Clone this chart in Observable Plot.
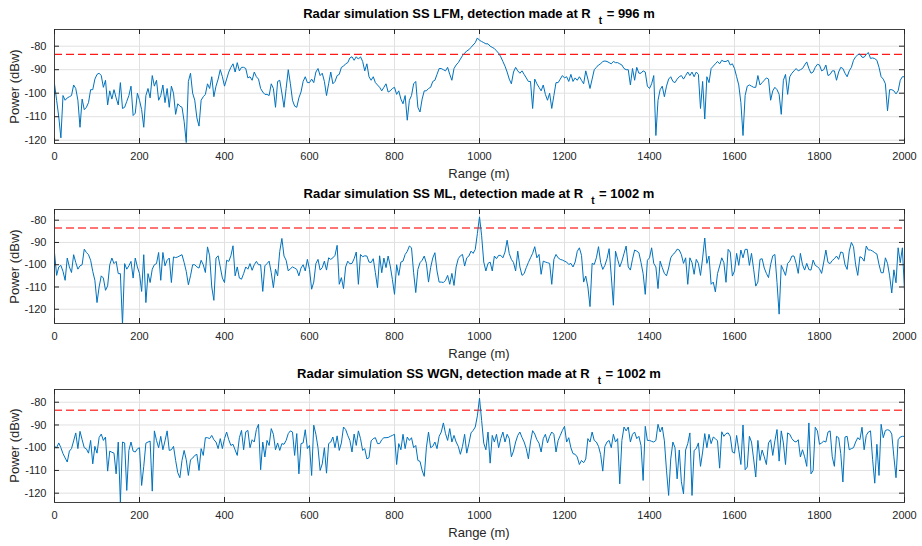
<!DOCTYPE html>
<html>
<head>
<meta charset="utf-8">
<script src="https://cdn.jsdelivr.net/npm/d3@7"></script>
<script src="https://cdn.jsdelivr.net/npm/@observablehq/plot@0.6"></script>
<style>
  body { margin: 0; background: #fff; }
  #fig { position: relative; width: 922px; height: 546px; overflow: hidden;
         font-family: "Liberation Sans", Arial, Helvetica, sans-serif; background: #fff; }
  .panel { position: absolute; left: 0; }
  .title { position: absolute; left: 54px; width: 850px; text-align: center; font-weight: bold;
           font-size: 13px; line-height: 15px; color: #000; white-space: nowrap; }
  .title .sub { position: relative; top: 6px; font-size: 10px; margin-left: 8px; margin-right: 1px; }
  .xlab { position: absolute; left: 54px; width: 850px; text-align: center; font-size: 13px;
          line-height: 15px; color: #262626; white-space: nowrap; }
  .ylab { position: absolute; width: 120px; text-align: center; font-size: 13px; line-height: 15px;
          color: #262626; white-space: nowrap; transform: rotate(-90deg); }
</style>
</head>
<body>
<div id="fig"></div>
<script>
// Sampling grid of the range profiles (m)
const ranges = d3.range(0, 2001, 5);

// Received power (dBW) after matched filtering, one value per range bin
const lfmPower = [
  -96, -103, -110, -119, -101, -103, -102, -101.5, -101, -96.5, -98, -103, -114.5, -102.5, -107, -106, -104, -98.5, -98.5, -94,
  -92, -91.5, -92.5, -97.5, -94.5, -105, -99, -102.5, -98.5, -102, -105, -95.5, -106.5, -106, -103.5, -101, -97, -109.5, -108.5, -100,
  -103, -107, -114.5, -101, -98, -102, -92.5, -97, -94.5, -103, -101, -96.5, -104, -98, -106, -97, -100, -109, -104.5, -105.5,
  -106, -112, -121, -95, -91.5, -100, -103, -110.5, -114, -103, -101.5, -100.5, -96, -98, -93, -101.5, -97, -94, -90, -93,
  -97, -94, -91, -89, -87.5, -91, -87, -90.5, -89, -89, -89.5, -93.5, -93, -94.5, -91, -93, -94, -98, -99.5, -100.5,
  -100.5, -101, -96, -98, -106, -95, -94.5, -100, -106, -98, -90, -96, -103, -105.5, -106, -102, -99.5, -95, -93, -95.5,
  -95.5, -94, -95.5, -91, -89.5, -92.5, -91.5, -95, -101, -96, -91, -96, -95, -92.5, -92, -89, -88.5, -87.5, -87, -85,
  -84.5, -86, -84.5, -85.5, -84.5, -86.5, -90.5, -87.5, -93, -94.5, -93, -95.5, -96.5, -97.5, -99, -97.5, -96, -99.5, -99, -98,
  -97.5, -100.5, -99, -102.5, -104.5, -101, -111.5, -103, -101, -96, -95, -106, -108, -102.5, -99, -99, -98, -97.5, -95, -94.5,
  -92, -89.5, -89.5, -90, -90.5, -89, -92, -94.5, -89.5, -88, -87, -85.5, -84, -83, -82, -81.5, -80.5, -79.5, -78.5, -76.5,
  -77.5, -78, -78.5, -79, -79, -80, -80.5, -81, -82, -83, -84.5, -86.5, -88.5, -91, -94, -96, -91, -89, -90.5, -91.5,
  -90.5, -92, -93.5, -95, -95, -106.5, -94, -96, -97.5, -99, -96.5, -100.5, -103, -100, -106.5, -101, -95.5, -95.5, -94, -92.5,
  -93.5, -93, -95, -92, -95, -93.5, -94.5, -93, -94.5, -96, -90.5, -94, -98, -94, -90, -89, -88, -87.5, -86.5, -86.3,
  -86.5, -87, -87.5, -86.5, -87, -87, -87.5, -88, -89.5, -90, -90, -96.5, -89.5, -94.5, -89, -91.5, -91.5, -90.5, -91, -97,
  -98, -96, -92.5, -118, -103, -98.5, -97, -101.5, -97, -94, -93, -95, -95.5, -94, -93, -92.5, -94, -92.5, -91, -92.5,
  -91, -93, -91, -92, -106.5, -95, -111, -93, -95.5, -89.5, -88.5, -87.5, -86.5, -87.5, -86, -86.5, -86.5, -86, -88, -87.5,
  -89.5, -93, -96.5, -104, -118, -101, -97, -96.5, -97, -97.5, -97.5, -92.5, -96.5, -95.5, -94.5, -93.5, -94, -103, -99, -97.5,
  -98.5, -100.5, -109, -94.5, -92, -100.5, -93, -91.5, -90.5, -89.5, -90.5, -90, -89.5, -88, -86.7, -89.5, -91.5, -91, -89, -87.7,
  -88, -90.5, -90, -88, -92.5, -92, -90.5, -90.5, -94.5, -91, -89, -89.5, -91.5, -93, -90.5, -89, -86, -84.5, -83.7, -83.3,
  -84.7, -84.7, -83.5, -82.7, -85.2, -85, -85.3, -86, -89, -93, -94, -96, -107.5, -98.5, -98.5, -99, -100.3, -99, -94.5, -93,
  -93
];

const mlPower = [
  -94.6, -104.8, -101, -100.3, -103, -107, -97, -101, -103.5, -95.5, -99, -102, -100.5, -100, -93, -94.5, -95.5, -98, -103, -107,
  -117, -110, -105, -106, -111.5, -109.5, -100, -97, -99.5, -98.5, -104, -104, -127, -99.5, -102, -100.5, -98.5, -106, -97, -101,
  -104, -112, -95.5, -117, -104, -108, -102, -100, -99.5, -94.5, -107, -94.5, -100.5, -98, -97, -108, -96.5, -96.8, -96.5, -96,
  -95.5, -99, -103, -109, -105, -100, -100, -101, -101.5, -98, -100, -103.5, -92, -96, -110, -116, -97, -96, -101, -106,
  -108, -98, -98.5, -96, -91.5, -105, -101, -106, -106.5, -104, -101, -102, -99.5, -102.5, -100, -98.5, -100, -100, -112, -100.5,
  -99.5, -98.4, -103.6, -110.3, -102, -105, -94, -88.2, -96.1, -98, -102.8, -101.8, -101, -101.5, -102.1, -105, -101.5, -100, -102.8, -97.6,
  -102.1, -111, -107.8, -99.5, -97.6, -102.4, -101.3, -98.4, -102.4, -96.9, -97.6, -96.9, -95.8, -91.3, -108.8, -105.8, -110.7, -101, -98.4, -99.6,
  -99.4, -97.3, -94.3, -108.8, -95.4, -96.4, -96, -96.1, -98.8, -99, -97.3, -103.6, -110.3, -96, -103.6, -97, -101.3, -96.1, -100.6, -106.6,
  -113.3, -100, -104.8, -98.8, -98.4, -95.4, -94, -91.6, -92.4, -103.6, -112.5, -102.1, -99.1, -98, -96.1, -99.4, -107.8, -101.3, -97, -94.6,
  -102.8, -107.8, -107.8, -108, -107, -104.8, -108.8, -103.9, -109.3, -101, -97.3, -96, -95.4, -100.6, -96.9, -96.1, -93.9, -94.9, -93.1, -86,
  -78.5, -87, -98.8, -102.8, -99.4, -98.8, -102.8, -96.1, -97.3, -95.8, -95.8, -96.9, -94.3, -89, -95, -97.6, -99, -102.8, -93.9, -101,
  -104.8, -104, -101.3, -99, -96.9, -94.9, -91.9, -96.9, -95.4, -104.3, -98.4, -98.8, -99.1, -99.4, -108.8, -97.6, -95.4, -96.9, -97.6, -97.9,
  -98.4, -98.8, -99.9, -99.4, -101, -98.8, -94, -92.4, -95.8, -107.8, -105.1, -110, -118.8, -99.4, -99.9, -96.9, -91.9, -99, -102.1, -100.3,
  -97.3, -92.8, -105, -118.2, -93.9, -97.6, -101, -98.4, -95, -91.6, -101, -102.4, -97.5, -93.4, -93.9, -94.6, -99, -104, -113.3, -98,
  -96.9, -92.4, -99.4, -101, -110.7, -98.4, -101.3, -103.9, -105, -101.5, -96.9, -95.4, -94.6, -93, -93.4, -95.5, -99.4, -96.9, -108.8, -96.9,
  -99.1, -104.3, -97.6, -99.4, -104.8, -97, -88, -99.4, -96.1, -108.8, -107.8, -112.2, -104, -100.6, -96.9, -99.1, -107.9, -93.1, -94.3, -105.1,
  -102.8, -94.9, -100.3, -93.4, -96.9, -93.1, -93.1, -100.3, -94.9, -102, -109.6, -107.8, -97.6, -97.3, -101.5, -103.9, -105.8, -99.9, -96, -95.4,
  -108, -122.2, -100.3, -102.4, -104.8, -99.4, -98.4, -96.1, -96.1, -99.4, -103.9, -94.9, -100, -102.4, -99.4, -102.2, -102.4, -97.9, -100.3, -100.9,
  -101.8, -103.9, -98.8, -93.4, -99, -99.5, -98.1, -97.3, -96.1, -97.6, -94.3, -94.6, -100, -102.1, -93.9, -90, -91.9, -100, -104.8, -96.4,
  -96.9, -98.4, -91.6, -93.4, -93.4, -93.9, -94.6, -95.2, -99.9, -103.6, -103.6, -96.9, -99.4, -105, -112.7, -102.3, -108.1, -92.4, -99.1, -92.4,
  -111.8
];

const wgnPower = [
  -99.4, -100, -97.9, -100, -102.6, -104.5, -106.3, -101.5, -100.4, -97, -93.5, -100.4, -92.8, -96.5, -100, -100.5, -102.4, -96.8, -107.1, -99.4,
  -102.4, -95.5, -94, -96.8, -95.3, -110.3, -101.5, -102, -102.4, -111.5, -97.5, -124, -97.5, -97.9, -118.8, -101.2, -97.5, -101.5, -101.9, -100.5,
  -100, -116.6, -108.2, -98, -97.5, -97.1, -119.1, -92.6, -96.8, -100, -95, -100.9, -97, -92.6, -101.2, -100.9, -99.4, -105.6, -111, -113.2,
  -105.6, -101.2, -105.3, -112.2, -105.3, -104.6, -103.4, -102.9, -110, -100.4, -103.4, -95.6, -95.6, -96, -94.6, -96.5, -97.5, -100.4, -96, -100.4,
  -96, -93.1, -96.5, -99, -98.5, -101, -103.4, -95.6, -92.4, -100.9, -93, -92.4, -100, -96.5, -97.5, -92, -89.7, -109.7, -97.5, -104.1,
  -96.8, -99, -91.6, -94.1, -100.9, -97.9, -101.2, -98.2, -98.5, -96.8, -93.8, -92.6, -93.1, -103.4, -93.8, -111.5, -98.2, -97.9, -92.1, -100.4,
  -99, -112.2, -90.1, -94.1, -100, -110, -107.1, -100, -111.2, -98.2, -97.5, -95.3, -100, -94.8, -101.2, -97.9, -90.9, -92, -94.6, -96.8,
  -101.9, -94, -99, -92.6, -96, -101.2, -100.4, -104.9, -104.4, -97, -96, -95.6, -98.2, -98.2, -96.5, -95.6, -95.6, -95.5, -95, -94.6,
  -94.1, -107.4, -98.2, -100.9, -94.1, -100.4, -95.3, -96.8, -95.6, -100, -99, -105.6, -106, -110, -112.6, -100, -93.1, -100, -99.4, -97.5,
  -100.4, -95, -93.1, -89.1, -93.8, -96.8, -91.6, -97.5, -94.6, -97.5, -99.4, -102.9, -99.4, -94.1, -102.4, -98.2, -93.5, -92.4, -90.9, -86,
  -78.2, -88, -98, -100.9, -93.1, -106.8, -94.6, -97.5, -94.1, -100, -96, -93.1, -97.5, -94.1, -96, -104, -101.5, -97.5, -94.6, -93.1,
  -95.5, -97.5, -100.4, -104.9, -97.5, -92.5, -94, -96.5, -98, -101.9, -96, -94.1, -97.9, -95, -93.1, -94.1, -101.9, -96.8, -94.6, -92.4,
  -90.6, -97.5, -95.6, -100, -102.6, -102.9, -104.1, -107.4, -105.6, -106.6, -105, -96, -97.5, -93.1, -96.8, -97.5, -99.4, -103, -110.3, -99.4,
  -97.5, -96.8, -100, -94.1, -97.5, -96, -115.9, -96.8, -90.9, -92.6, -90.9, -97.5, -94.1, -93.1, -96, -95, -99, -114.4, -90.6, -96.8,
  -96.8, -97.2, -97.5, -96.8, -89.7, -93.1, -90.9, -97, -110, -121, -104.9, -97.5, -100, -113.7, -101, -115, -120.3, -101, -98.2, -93.5,
  -121, -101.2, -100.4, -97.9, -108.2, -101.9, -93.8, -100, -94.1, -98.2, -95.3, -96, -97, -109, -93, -95, -93.8, -93.5, -95, -101.9,
  -102.4, -94.6, -101, -107.4, -90, -109.7, -108.5, -95, -97.5, -105, -112.9, -96.8, -105.6, -101, -104, -107.4, -97.9, -96.5, -103.4, -97,
  -92, -105.9, -92.6, -97.9, -107.4, -93.5, -94.1, -96, -97.1, -97.5, -96.5, -104.1, -100.9, -104, -108.2, -89.1, -111.5, -110, -91, -92.6,
  -98.5, -97.9, -97.1, -97.5, -93.1, -92.6, -104, -108.2, -95, -95.6, -102.6, -115.1, -95.3, -95, -100.9, -100.4, -100, -97.5, -95.6, -96.5,
  -91, -100.9, -94.6, -93.1, -92.6, -105.3, -115.6, -98.5, -112.2, -89.7, -95.6, -92.4, -92.1, -92.4, -94, -104, -113.2, -96.5, -95.3, -95,
  -95
];

// Detection threshold (dBW) and reported target ranges (m)
const threshold = -83.5;
const waveforms = ["LFM", "ML", "WGN"];
const detectedRange = [996, 1002, 1002];

// Axis ticks
const rangeTicks = [0, 200, 400, 600, 800, 1000, 1200, 1400, 1600, 1800, 2000];
const powerTicks = [-120, -110, -100, -90, -80];

// Layout of the three stacked axes (page pixels)
const W = 922, ML = 54, MR = 18, MT = 6, MB = 44;
const layout = [
  {top: 29, bottom: 143, domain: [-121.4, -72.9], red: "#ff1a1a", power: lfmPower},
  {top: 209, bottom: 323, domain: [-126.4, -75.2], red: "#ff4848", power: mlPower},
  {top: 389, bottom: 502, domain: [-124.1, -74.4], red: "#ff4848", power: wgnPower}
];

const fig = document.getElementById("fig");
const fmt = d => String(d);

layout.forEach((p, k) => {
  const h = p.bottom - p.top;
  const innerW = W - ML - MR;
  const svg = Plot.plot({
    width: W,
    height: h + MT + MB,
    marginLeft: ML, marginRight: MR, marginTop: MT, marginBottom: MB,
    style: {fontFamily: '"Liberation Sans", Arial, Helvetica, sans-serif', fontSize: "11px",
            color: "#262626", background: "transparent", overflow: "visible"},
    x: {domain: [0, 2000]},
    y: {domain: p.domain},
    marks: [
      Plot.gridX(rangeTicks, {stroke: "#e1e1e1", strokeOpacity: 1}),
      Plot.gridY(powerTicks, {stroke: "#e1e1e1", strokeOpacity: 1}),
      Plot.ruleY([threshold], {stroke: p.red, strokeWidth: 1.4, strokeDasharray: "8,4"}),
      Plot.line(p.power, {x: (d, i) => ranges[i], y: d => d, stroke: "#0072bd",
                          strokeWidth: 1, clip: true}),
      Plot.frame({stroke: "#404040", strokeWidth: 1}),
      Plot.tickX(rangeTicks, {x: d => d, insetTop: h - 5, stroke: "#262626"}),
      Plot.tickX(rangeTicks, {x: d => d, insetBottom: h - 5, stroke: "#262626"}),
      Plot.tickY(powerTicks, {y: d => d, insetRight: innerW - 5, stroke: "#262626"}),
      Plot.tickY(powerTicks, {y: d => d, insetLeft: innerW - 5, stroke: "#262626"}),
      Plot.axisX(rangeTicks, {tickSize: 0, tickPadding: 9, tickFormat: fmt, label: null}),
      Plot.axisY(powerTicks, {tickSize: 0, tickPadding: 8, tickFormat: fmt, label: null})
    ]
  });
  svg.classList.add("panel");
  svg.style.top = (p.top - MT) + "px";
  fig.appendChild(svg);

  // Title with subscripted R_t
  const t = document.createElement("div");
  t.className = "title";
  t.style.top = (p.top - 11 - 12) + "px";
  t.innerHTML = `Radar simulation SS ${waveforms[k]}, detection made at R<span class="sub">t</span> = ${detectedRange[k]} m`;
  fig.appendChild(t);

  // x-axis label
  const xl = document.createElement("div");
  xl.className = "xlab";
  xl.style.top = (p.bottom + 31 - 8) + "px";
  xl.textContent = "Range (m)";
  fig.appendChild(xl);

  // y-axis label
  const yl = document.createElement("div");
  yl.className = "ylab";
  yl.style.left = (13.7 - 60) + "px";
  yl.style.top = ((p.top + p.bottom) / 2 - 7.5) + "px";
  yl.textContent = "Power (dBw)";
  fig.appendChild(yl);
});
</script>
</body>
</html>
